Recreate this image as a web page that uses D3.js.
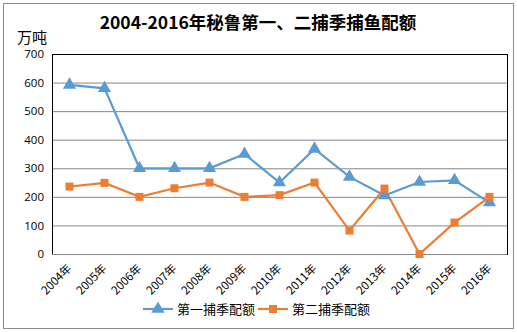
<!DOCTYPE html>
<html><head><meta charset="utf-8">
<script src="https://cdn.jsdelivr.net/npm/d3@7"></script>
<style>body{margin:0;background:#fff}svg{display:block}</style>
</head><body>
<svg id="c" width="517" height="332"></svg>
<script>
const categories = ["2004年","2005年","2006年","2007年","2008年","2009年","2010年","2011年","2012年","2013年","2014年","2015年","2016年"];
const series1 = [592,580,300,300,300,350,250,368,270,205,252,258,180];
const series2 = [236,249,200,230,250,200,206,250,82,229,0,110,200];
const seriesNames = ["第一捕季配额","第二捕季配额"];
const yTicks = [0,100,200,300,400,500,600,700];
const title = "2004-2016年秘鲁第一、二捕季捕鱼配额";
const unit = "万吨";

const svg = d3.select("#c");
const font = "'Open Sans','Noto Sans CJK SC',sans-serif";
const cjk = "'Noto Sans CJK SC',sans-serif";
const blue = "#5B9BD5", orange = "#ED7D31";

svg.append("rect").attr("x",3.5).attr("y",3.5).attr("width",510).attr("height",325)
  .attr("fill","#fff").attr("stroke","#8c8c8c").attr("stroke-width",1);

const L=52, R=507, T=54, B=254;
const x = d3.scaleBand().domain(categories).range([L,R]).padding(0);
const y = d3.scaleLinear().domain([0,700]).range([B,T]);

// gridlines
svg.append("g").selectAll("line").data(yTicks.filter(d=>d>0)).join("line")
  .attr("x1",L).attr("x2",R).attr("y1",d=>y(d)+0.5).attr("y2",d=>y(d)+0.5)
  .attr("stroke","#868686").attr("stroke-width",1);
// plot border
svg.append("rect").attr("x",L+0.5).attr("y",T+0.5).attr("width",R-L).attr("height",B-T)
  .attr("fill","none").attr("stroke","#000").attr("stroke-width",1);
svg.append("line").attr("x1",L).attr("x2",R).attr("y1",B+0.5).attr("y2",B+0.5).attr("stroke","#868686");

// y axis
const ya = svg.append("g").attr("transform",`translate(${L-8},0)`)
  .call(d3.axisLeft(y).tickValues(yTicks).tickSize(0).tickPadding(0));
ya.select(".domain").remove();
ya.selectAll("text").attr("font-family",font).attr("font-size",11.5).attr("fill","#000");

// x axis labels
const xa = svg.append("g").attr("transform",`translate(0,${B})`)
  .call(d3.axisBottom(x).tickSize(0).tickPadding(0));
xa.select(".domain").remove();
xa.selectAll(".tick text").attr("font-family",cjk).attr("font-size",11.5).attr("fill","#000")
  .attr("text-anchor","end").attr("dy",0).attr("y",0)
  .attr("transform","translate(3,15) rotate(-45)");

// title + unit
svg.append("text").attr("x",258).attr("y",29).attr("text-anchor","middle")
  .attr("font-family",cjk).attr("font-weight","bold").attr("font-size",17.5).text(title);
svg.append("text").attr("x",17).attr("y",43).attr("font-family",cjk).attr("font-size",15).text(unit);

const line = d3.line().x((d,i)=>x(categories[i])+x.bandwidth()/2).y(d=>y(d));
svg.append("path").datum(series1).attr("d",line).attr("fill","none").attr("stroke",blue).attr("stroke-width",2.2);
svg.append("path").datum(series2).attr("d",line).attr("fill","none").attr("stroke",orange).attr("stroke-width",2.2);

const tri = d3.symbol().type(d3.symbolTriangle).size(75);
const sq = d3.symbol().type(d3.symbolSquare).size(64);
svg.append("g").selectAll("path").data(series1).join("path").attr("d",tri)
  .attr("transform",(d,i)=>`translate(${x(categories[i])+x.bandwidth()/2},${y(d)})`).attr("fill",blue);
svg.append("g").selectAll("path").data(series2).join("path").attr("d",sq)
  .attr("transform",(d,i)=>`translate(${x(categories[i])+x.bandwidth()/2},${y(d)})`).attr("fill",orange);

// legend
const lg = svg.append("g");
[[blue,tri,143],[orange,sq,258]].forEach(([c,s,lx],i)=>{
  lg.append("line").attr("x1",lx).attr("x2",lx+30).attr("y1",309).attr("y2",309).attr("stroke",c).attr("stroke-width",2.2);
  lg.append("path").attr("d",s).attr("transform",`translate(${lx+15},309)`).attr("fill",c);
  lg.append("text").attr("x",lx+34).attr("y",313.5).attr("font-family",cjk).attr("font-size",13).text(seriesNames[i]);
});
</script>
</body></html>
